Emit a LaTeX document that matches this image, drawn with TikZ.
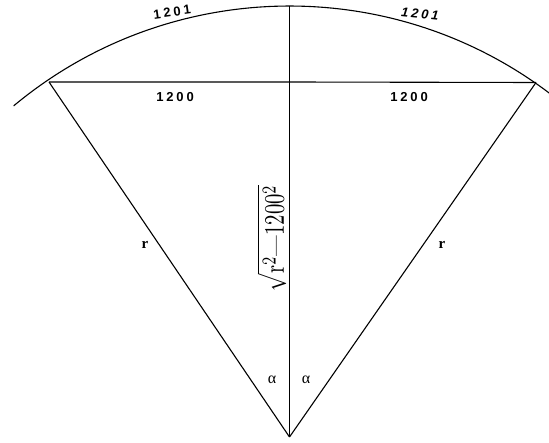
\documentclass[tikz,border=0pt]{standalone}
\usepackage{fontspec}
\newfontfamily\labfont[LetterSpace=22]{Liberation Sans}
\newfontfamily\serfont{Liberation Serif}
\begin{document}
\begin{tikzpicture}[x=1pt,y=1pt,line width=1.1pt,
  lbl/.style={font=\labfont\bfseries\fontsize{13}{13}\selectfont,inner sep=0pt},
  rlbl/.style={font=\serfont\bfseries\fontsize{15}{15}\selectfont,inner sep=0pt},
  alab/.style={font=\serfont\fontsize{16}{16}\selectfont,inner sep=0pt}]
\useasboundingbox (0,0) rectangle (549,442);
% geometry (y measured upward: y = 442 - pixel row)
\coordinate (A) at (289.5,5);
\coordinate (T) at (289.5,436);
\coordinate (L) at (49,360);
\coordinate (R) at (536,359.5);
\coordinate (M) at (289.5,360);
\coordinate (S) at ([shift={(129.8:431)}]A);
% arc
\draw (S) arc[start angle=129.8,end angle=52.8,radius=431];
% chord, axis, radii
\draw (L) -- (M) -- (R);
\draw (A) -- (T);
\draw (A) -- (L);
\draw (A) -- (R);
% labels
\node[lbl,rotate=8] (a1) at (172,430) {1201};
\node[lbl,rotate=-6,font=\labfont\bfseries\itshape\fontsize{13}{13}\selectfont] (a2) at (420,428) {1201};
\node[lbl] (c1) at (175,345) {1200};
\node[lbl] (c2) at (409,345) {1200};
\node[rlbl] (r1) at (145,197) {r};
\node[rlbl] (r2) at (442,197) {r};
\node[inner sep=0pt,rotate=90] (sq) at (271.5,204) {\resizebox{106pt}{27pt}{$\sqrt{\mathrm{r}^2\mbox{—}1200^2}$}};
\node[alab] (al1) at (272,62) {α};
\node[alab] (al2) at (306,62) {α};
\end{tikzpicture}
\end{document}
